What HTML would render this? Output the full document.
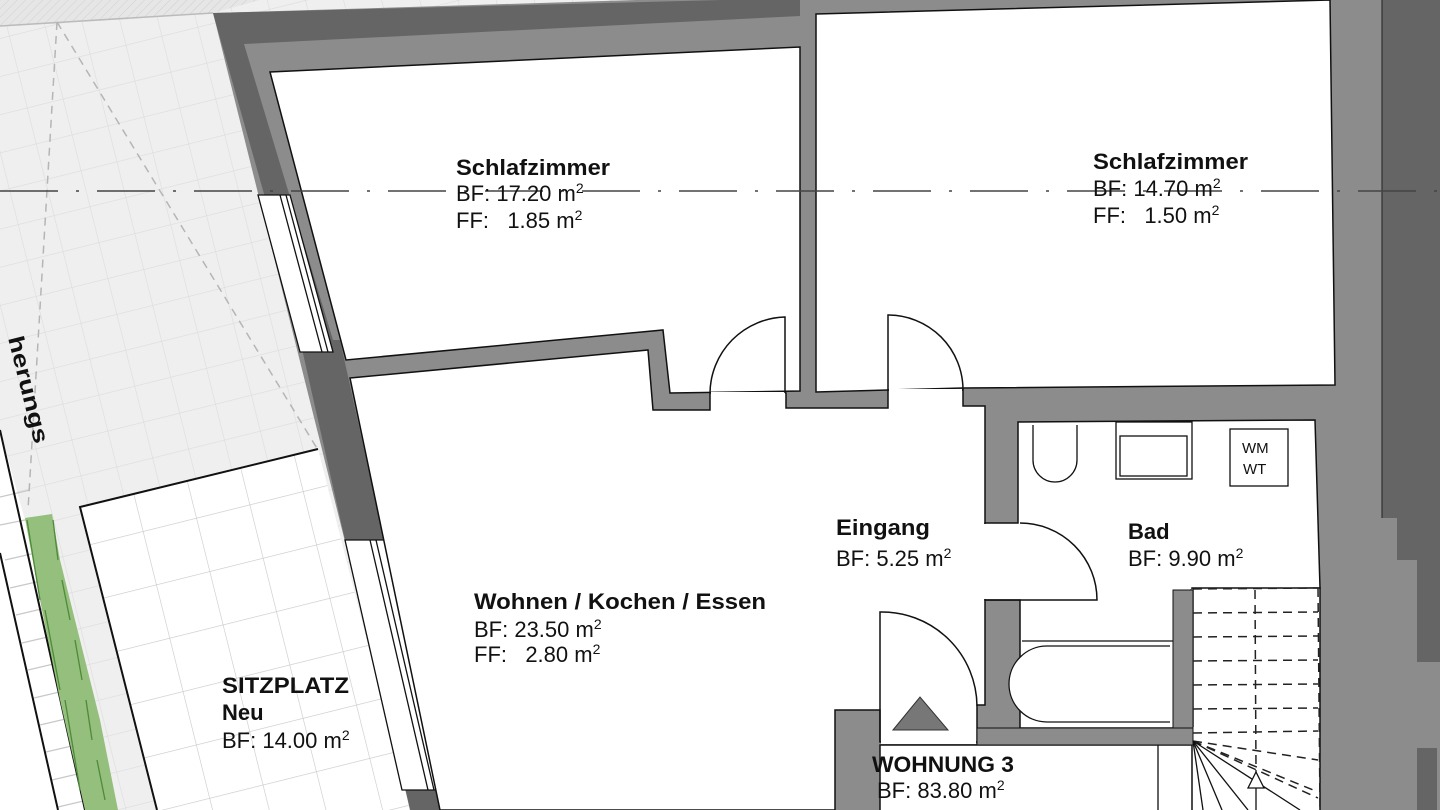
<!DOCTYPE html>
<html><head><meta charset="utf-8"><style>
html,body{margin:0;padding:0;background:#fff;}
svg{display:block;}
text{font-family:"Liberation Sans",Arial,sans-serif;fill:#111;white-space:pre;}
.b{font-weight:bold;font-size:22px;}
.r{font-size:22px;}
</style></head><body>
<svg width="1440" height="810" viewBox="0 0 1440 810" xmlns="http://www.w3.org/2000/svg" xml:space="preserve">
<defs>
<pattern id="g" width="37" height="37" patternUnits="userSpaceOnUse" patternTransform="rotate(-14)">
<rect width="37" height="37" fill="#efefef"/>
<path d="M0 0H37M0 0V37" stroke="#dcdcdc" stroke-width="1.2"/>
</pattern>
<pattern id="gw" width="55" height="55" patternUnits="userSpaceOnUse" patternTransform="rotate(-14) translate(10,0)">
<rect width="55" height="55" fill="#fff"/>
<path d="M0 0H55M0 0V55" stroke="#c8c8c8" stroke-width="1.2"/>
</pattern>
<pattern id="h" width="6" height="6" patternUnits="userSpaceOnUse" patternTransform="rotate(45)">
<rect width="6" height="6" fill="#e6e6e6"/><path d="M0 0V6" stroke="#cfcfcf" stroke-width="1"/>
</pattern>
</defs>

<rect x="0" y="0" width="1440" height="810" fill="url(#g)"/>
<polygon points="0,0 260,0 213,13 0,26" fill="url(#h)"/>
<line x1="0" y1="26" x2="213" y2="13" stroke="#bbb" stroke-width="1.5"/>
<polygon points="0,430 25,520 85,810 0,810" fill="#fff"/>
<g stroke="#c8c8c8" stroke-width="1.2">
<line x1="0" y1="497" x2="30" y2="490"/><line x1="0" y1="525" x2="35" y2="518"/>
<line x1="5" y1="560" x2="40" y2="552"/><line x1="10" y1="588" x2="45" y2="580"/>
<line x1="16" y1="615" x2="50" y2="607"/><line x1="22" y1="643" x2="56" y2="635"/>
<line x1="28" y1="670" x2="62" y2="662"/><line x1="34" y1="698" x2="68" y2="690"/>
<line x1="40" y1="725" x2="74" y2="717"/><line x1="46" y1="752" x2="80" y2="744"/>
<line x1="52" y1="780" x2="86" y2="772"/><line x1="58" y1="807" x2="92" y2="799"/>
</g>
<line x1="0" y1="430" x2="85" y2="810" stroke="#111" stroke-width="2"/>
<line x1="0" y1="553" x2="58" y2="810" stroke="#111" stroke-width="2"/>
<polygon points="25,518 52,514 60,560 80,640 100,720 118,810 85,810 60,700 40,600" fill="#94bf7c"/>
<g stroke="#4f8a3a" stroke-width="1.3" fill="none">
<path d="M27,520 L40,600 M45,610 L60,690 M65,700 L80,790"/>
<path d="M53,520 L58,560 M62,580 L70,620 M75,640 L82,680 M86,700 L92,740 M97,760 L105,800"/>
</g>
<g stroke="#b5b5b5" stroke-width="1.5" stroke-dasharray="8,6" fill="none">
<line x1="57" y1="22" x2="28" y2="510"/>
<line x1="57" y1="22" x2="318" y2="450"/>
</g>
<text class="b" transform="translate(8,338) rotate(76)" textLength="110" lengthAdjust="spacingAndGlyphs">herungs</text>

<polygon points="80,507 318,449 410,810 157,810" fill="url(#gw)"/>
<polyline points="157,810 80,507 318,449" fill="none" stroke="#111" stroke-width="2"/>

<polygon points="213,13 800,-5 1440,-5 1440,810 412,810" fill="#8c8c8c"/>
<polygon points="213,13 800,-2 800,16 244,44 336,350 308,350" fill="#656565"/>
<polygon points="300,340 340,340 384,540 345,540" fill="#656565"/>
<polygon points="402,775 440,775 448,810 410,810" fill="#656565"/>
<rect x="1382" y="0" width="58" height="518" fill="#656565"/>
<rect x="1397" y="518" width="43" height="42" fill="#656565"/>
<rect x="1417" y="560" width="23" height="102" fill="#656565"/>
<rect x="1417" y="748" width="20" height="62" fill="#656565"/>
<line x1="1382" y1="0" x2="1382" y2="518" stroke="#222" stroke-width="1"/>

<polygon points="258,195 290,195 333,352 300,352" fill="#fff" stroke="#111" stroke-width="1.3"/>
<line x1="280" y1="195" x2="322" y2="352" stroke="#111" stroke-width="1.3"/>
<line x1="286" y1="195" x2="328" y2="352" stroke="#111" stroke-width="1.3"/>
<polygon points="345,540 384,540 440,790 402,790" fill="#fff" stroke="#111" stroke-width="1.3"/>
<line x1="370" y1="540" x2="428" y2="790" stroke="#111" stroke-width="1.3"/>
<line x1="376" y1="540" x2="434" y2="790" stroke="#111" stroke-width="1.3"/>

<g fill="#fff" stroke="#111" stroke-width="1.5">
<polygon points="270,72 800,47 800,391 670,393 663,330 346,360"/>
<polygon points="816,14 1330,0 1335,385 963,388 888,390 816,392"/>
<polygon points="350,378 648,350 653,410 710,410 710,393 786,393 786,408 888,408 888,390 963,390 963,406 985,406 985,705 977,705 977,742 880,742 880,710 835,710 835,810 440,810"/>
<polygon points="1018,422 1315,420 1320,588 1192,590 1192,728 1020,728 1020,600 985,600 985,523 1018,523"/>
<rect x="880" y="745" width="313" height="70"/>
<polygon points="1192,588 1320,588 1320,815 1192,815"/>
</g>
<rect x="711" y="392" width="74" height="19" fill="#fff"/>
<rect x="889" y="389" width="73" height="19" fill="#fff"/>
<rect x="983" y="524" width="38" height="75" fill="#fff"/>
<rect x="881" y="700" width="95" height="44" fill="#fff"/>
<rect x="1190" y="589" width="4" height="138" fill="#8c8c8c"/>
<rect x="1173" y="590" width="20" height="155" fill="#8c8c8c" stroke="#111" stroke-width="1"/>
<rect x="977" y="728" width="216" height="17" fill="#8c8c8c" stroke="#111" stroke-width="1"/>
<line x1="1158" y1="745" x2="1158" y2="810" stroke="#111" stroke-width="1.3"/>

<g fill="none" stroke="#111" stroke-width="1.5">
<path d="M785,393 V317 A77,77 0 0 0 710,393"/>
<path d="M888,390 V315 A75,75 0 0 1 963,390"/>
<path d="M985,600 H1097 A77,77 0 0 0 1020,523"/>
<path d="M880,742 V612 A95,95 0 0 1 977,706"/>
</g>
<polygon points="893,730 920,697 948,730" fill="#777" stroke="#333" stroke-width="1"/>

<g fill="#fff" stroke="#111" stroke-width="1.3">
<path d="M1033,425 V460 A22,22 0 0 0 1077,460 V425"/>
<rect x="1116" y="422" width="76" height="57"/>
<rect x="1120" y="436" width="67" height="40"/>
<rect x="1230" y="429" width="58" height="57"/>
<line x1="1022" y1="641" x2="1173" y2="641"/>
<path d="M1170,646 H1047 A37,37 0 0 0 1047,722 H1170"/>
</g>
<text x="1242" y="453" style="font-size:15px">WM</text>
<text x="1243" y="474" style="font-size:15px">WT</text>

<g stroke="#222" stroke-width="1.5" stroke-dasharray="9,6" fill="none">
<line x1="1193" y1="589" x2="1318" y2="588"/>
<line x1="1193" y1="613" x2="1318" y2="612"/>
<line x1="1193" y1="637" x2="1318" y2="636"/>
<line x1="1193" y1="661" x2="1318" y2="660"/>
<line x1="1193" y1="685" x2="1318" y2="684"/>
<line x1="1193" y1="709" x2="1318" y2="708"/>
<line x1="1193" y1="733" x2="1318" y2="731"/>
<line x1="1255" y1="590" x2="1256" y2="770"/>
<line x1="1318" y1="588" x2="1320" y2="810"/>
<line x1="1193" y1="741" x2="1318" y2="760"/>
<line x1="1193" y1="741" x2="1318" y2="792"/>
<line x1="1193" y1="741" x2="1318" y2="798"/>
</g>
<g stroke="#111" stroke-width="1.3" fill="none">
<line x1="1193" y1="741" x2="1203" y2="810"/>
<line x1="1193" y1="741" x2="1222" y2="810"/>
<line x1="1193" y1="741" x2="1248" y2="810"/>
<line x1="1193" y1="741" x2="1300" y2="810"/>
<line x1="1256" y1="770" x2="1256" y2="810"/>
<polygon points="1256,772 1248,788 1264,788" fill="#fff"/>
</g>

<line x1="0" y1="191" x2="1440" y2="191" stroke="#444" stroke-width="1.5" stroke-dasharray="58,18,3,18"/>

<text class="b" x="456" y="175" textLength="154" lengthAdjust="spacingAndGlyphs">Schlafzimmer</text>
<text class="r" x="456" y="201">BF: 17.20 m<tspan dy="-8" style="font-size:14px">2</tspan></text>
<text class="r" x="456" y="228">FF:   1.85 m<tspan dy="-8" style="font-size:14px">2</tspan></text>
<text class="b" x="1093" y="169" textLength="155" lengthAdjust="spacingAndGlyphs">Schlafzimmer</text>
<text class="r" x="1093" y="196">BF: 14.70 m<tspan dy="-8" style="font-size:14px">2</tspan></text>
<text class="r" x="1093" y="223">FF:   1.50 m<tspan dy="-8" style="font-size:14px">2</tspan></text>
<text class="b" x="474" y="609" textLength="292" lengthAdjust="spacingAndGlyphs">Wohnen / Kochen / Essen</text>
<text class="r" x="474" y="637">BF: 23.50 m<tspan dy="-8" style="font-size:14px">2</tspan></text>
<text class="r" x="474" y="662">FF:   2.80 m<tspan dy="-8" style="font-size:14px">2</tspan></text>
<text class="b" x="836" y="535" textLength="94" lengthAdjust="spacingAndGlyphs">Eingang</text>
<text class="r" x="836" y="566">BF: 5.25 m<tspan dy="-8" style="font-size:14px">2</tspan></text>
<text class="b" x="1128" y="539">Bad</text>
<text class="r" x="1128" y="566">BF: 9.90 m<tspan dy="-8" style="font-size:14px">2</tspan></text>
<text class="b" x="222" y="693" textLength="127" lengthAdjust="spacingAndGlyphs">SITZPLATZ</text>
<text class="b" x="222" y="720">Neu</text>
<text class="r" x="222" y="748">BF: 14.00 m<tspan dy="-8" style="font-size:14px">2</tspan></text>
<text class="b" x="872" y="772" textLength="142" lengthAdjust="spacingAndGlyphs">WOHNUNG 3</text>
<text class="r" x="877" y="798">BF: 83.80 m<tspan dy="-8" style="font-size:14px">2</tspan></text>
</svg>
</body></html>
